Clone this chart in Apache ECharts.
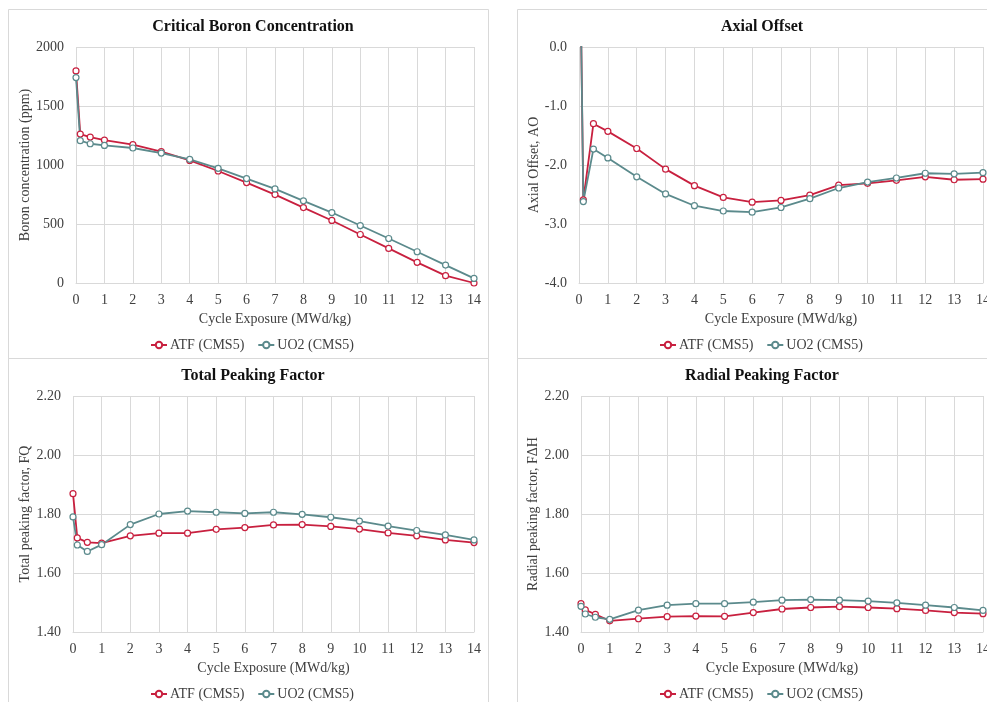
<!DOCTYPE html>
<html>
<head>
<meta charset="utf-8">
<script src="https://cdn.jsdelivr.net/npm/echarts@6/dist/echarts.min.js"></script>
<style>
  html, body { margin: 0; padding: 0; background: #fff; }
  #chart { width: 987px; height: 702px; }
</style>
</head>
<body>
<div id="chart"></div>
<script>
// ---------- data ----------
var exposure = [0, 0.15, 0.5, 1, 2, 3, 4, 5, 6, 7, 8, 9, 10, 11, 12, 13, 14];
var seriesNames = ['ATF (CMS5)', 'UO2 (CMS5)'];

var boronATF = [1797, 1262, 1237, 1211, 1172, 1113, 1039, 949, 851, 749, 639, 530, 411, 293, 175, 62, 0];
var boronUO2 = [1741, 1206, 1180, 1166, 1144, 1101, 1048, 972, 885, 797, 696, 597, 487, 377, 265, 152, 39];

var aoATF = [3.0, -2.59, -1.30, -1.43, -1.72, -2.07, -2.35, -2.55, -2.63, -2.60, -2.51, -2.34, -2.31, -2.26, -2.20, -2.25, -2.24];
var aoUO2 = [3.0, -2.62, -1.73, -1.88, -2.20, -2.49, -2.69, -2.78, -2.80, -2.72, -2.57, -2.39, -2.29, -2.22, -2.14, -2.15, -2.13];

var fqATF = [1.869, 1.719, 1.704, 1.701, 1.726, 1.735, 1.735, 1.748, 1.754, 1.763, 1.764, 1.758, 1.749, 1.736, 1.726, 1.712, 1.703];
var fqUO2 = [1.790, 1.695, 1.673, 1.696, 1.764, 1.800, 1.810, 1.806, 1.802, 1.806, 1.799, 1.789, 1.776, 1.759, 1.744, 1.729, 1.712];

var fdhATF = [1.496, 1.475, 1.460, 1.438, 1.445, 1.452, 1.454, 1.453, 1.466, 1.478, 1.483, 1.486, 1.483, 1.479, 1.473, 1.466, 1.462];
var fdhUO2 = [1.487, 1.461, 1.450, 1.443, 1.474, 1.491, 1.496, 1.496, 1.501, 1.508, 1.510, 1.508, 1.505, 1.499, 1.491, 1.483, 1.473];

var titles = ['Critical Boron Concentration', 'Axial Offset', 'Total Peaking Factor', 'Radial Peaking Factor'];
var xAxisName = 'Cycle Exposure (MWd/kg)';
var yAxisNames = ['Boron concentration (ppm)', 'Axial Offset, AO', 'Total peaking factor, FQ', 'Radial peaking factor, F\u0394H'];
// ---------- end data ----------

var FONT = '"Liberation Serif", "Times New Roman", serif';
var RED = '#C8203F';
var TEAL = '#5B8A8C';
var GRIDC = '#D9D9D9';
var TXT = '#404040';

var panels = [
  {grid: {left: 76, top: 47, width: 398, height: 236}, cx: 248, lx: 150, ty: 14, ly: 338, yMin: 0, yMax: 2000, yInt: 500, dec: 0, gap: 38, data: [boronATF, boronUO2]},
  {grid: {left: 579, top: 47, width: 404, height: 236}, cx: 757, lx: 659, ty: 14, ly: 338, yMin: -4, yMax: 0, yInt: 1, dec: 1, gap: 33, data: [aoATF, aoUO2]},
  {grid: {left: 73, top: 396, width: 401, height: 236}, cx: 248, lx: 150, ty: 363, ly: 687, yMin: 1.4, yMax: 2.2, yInt: 0.2, dec: 2, gap: 37, data: [fqATF, fqUO2]},
  {grid: {left: 581, top: 396, width: 402, height: 236}, cx: 757, lx: 659, ty: 363, ly: 687, yMin: 1.4, yMax: 2.2, yInt: 0.2, dec: 2, gap: 35, data: [fdhATF, fdhUO2]}
];

function pairs(ys) {
  return exposure.map(function (x, i) { return [x, ys[i]]; });
}

var option = {
  animation: false,
  backgroundColor: '#fff',
  title: [], legend: [], grid: [], xAxis: [], yAxis: [], series: [],
  graphic: [
    {type: 'rect', shape: {x: 8.5, y: 9.5, width: 480, height: 349}, style: {fill: 'none', stroke: GRIDC, lineWidth: 1}, silent: true},
    {type: 'rect', shape: {x: 517.5, y: 9.5, width: 480, height: 349}, style: {fill: 'none', stroke: GRIDC, lineWidth: 1}, silent: true},
    {type: 'rect', shape: {x: 8.5, y: 358.5, width: 480, height: 360}, style: {fill: 'none', stroke: GRIDC, lineWidth: 1}, silent: true},
    {type: 'rect', shape: {x: 517.5, y: 358.5, width: 480, height: 360}, style: {fill: 'none', stroke: GRIDC, lineWidth: 1}, silent: true}
  ]
};

panels.forEach(function (p, i) {
  option.title.push({
    text: titles[i], left: p.cx, top: p.ty, textAlign: 'center',
    textStyle: {fontFamily: FONT, fontSize: 16, fontWeight: 'bold', color: '#111'}
  });
  option.legend.push({
    data: seriesNames, left: p.lx, top: p.ly, orient: 'horizontal', width: 300,
    itemWidth: 16, itemHeight: 8, itemGap: 13, padding: 0,
    textStyle: {fontFamily: FONT, fontSize: 14, color: TXT, padding: [0, 0, 0, -2]}
  });
  option.grid.push(Object.assign({outerBoundsMode: 'none', containLabel: false}, p.grid));
  option.xAxis.push({
    type: 'value', gridIndex: i, min: 0, max: 14, interval: 1,
    name: xAxisName, nameLocation: 'middle', nameGap: 29,
    nameTextStyle: {fontFamily: FONT, fontSize: 14, color: TXT},
    axisLine: {show: true, onZero: false, lineStyle: {color: GRIDC}},
    axisTick: {show: false},
    axisLabel: {fontFamily: FONT, fontSize: 14, color: TXT, margin: 10, hideOverlap: false},
    splitLine: {show: true, lineStyle: {color: GRIDC}}
  });
  option.yAxis.push({
    type: 'value', gridIndex: i, min: p.yMin, max: p.yMax, interval: p.yInt,
    name: yAxisNames[i], nameLocation: 'middle', nameGap: p.gap,
    nameTextStyle: {fontFamily: FONT, fontSize: 14, color: TXT},
    axisLine: {show: false},
    axisTick: {show: false},
    axisLabel: {fontFamily: FONT, fontSize: 14, color: TXT, margin: 12,
      formatter: (function (d) { return function (v) { return Number(v).toFixed(d); }; })(p.dec)},
    splitLine: {show: true, lineStyle: {color: GRIDC}}
  });
  [RED, TEAL].forEach(function (c, k) {
    option.series.push({
      type: 'line', name: seriesNames[k], xAxisIndex: i, yAxisIndex: i,
      data: pairs(p.data[k]), clip: true,
      symbol: 'circle', symbolSize: 6, showAllSymbol: true,
      lineStyle: {color: c, width: 1.8},
      itemStyle: {color: '#fff', borderColor: c, borderWidth: 1.2},
      emphasis: {disabled: true}
    });
  });
});

var chart = echarts.init(document.getElementById('chart'), null, {renderer: 'canvas'});
chart.setOption(option);
</script>
</body>
</html>
